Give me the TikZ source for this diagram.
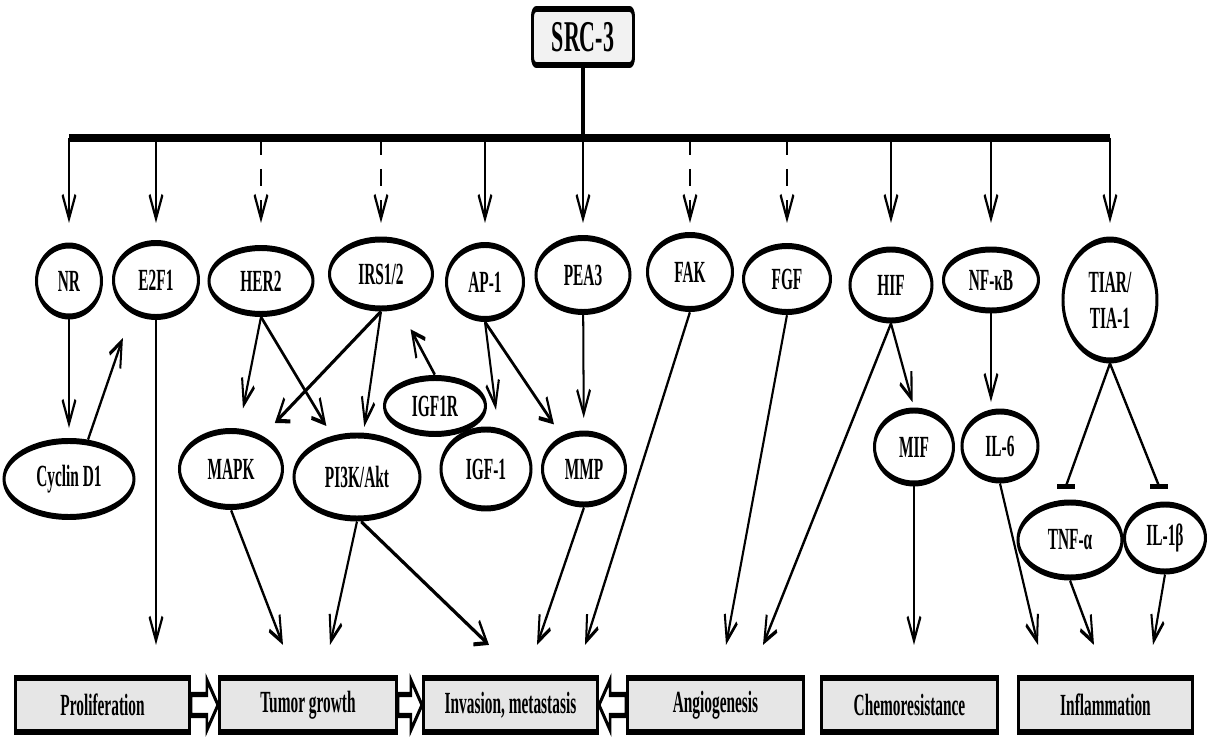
\documentclass[tikz,border=0pt]{standalone}
\usepackage{fontspec}
\setmainfont{Liberation Serif}
\usetikzlibrary{arrows.meta,calc,shapes.geometric}
\definecolor{boxgray}{HTML}{E6E6E6}
\definecolor{srcgray}{HTML}{F2F2F2}
\newcommand{\fatarrow}[3]{%
  \draw[fatarr] ([yshift=2.1mm]#1) -- ([shift={(#3,2.1mm)}]#2) -- ([shift={(#3,5mm)}]#2) -- (#2)
    -- ([shift={(#3,-5mm)}]#2) -- ([shift={(#3,-2.1mm)}]#2) -- ([yshift=-2.1mm]#1) -- cycle;}
\begin{document}
\begin{tikzpicture}[x=0.4mm, y=-0.2mm,
    every node/.style={font=\bfseries\fontsize{17.5}{20.5}\selectfont},
    ell/.style={ellipse, draw, fill=white, line width=3.4pt, inner sep=0pt, align=center},
    res/.style={rectangle, draw, fill=boxgray, line width=3.2pt, minimum height=10.9mm, inner sep=0pt},
    arr/.style={line width=2.3pt, -{Straight Barb[length=4.8mm, width=5.2mm]}},
    darr/.style={arr, dash pattern=on 3.4mm off 2.8mm},
    inh/.style={line width=2.3pt},
    tbar/.style={line width=2.85pt},
    fatarr/.style={draw, fill=white, line width=2.85pt, line join=miter}]
  \useasboundingbox (0mm,0mm) rectangle (241.6mm,-147.2mm);
  \begin{scope}[transform canvas={xscale=0.5}]
    \node[draw, fill=srcgray, line width=3.4pt, rounded corners=1.5mm, minimum width=40.4mm, minimum height=11.2mm,
      font=\bfseries\fontsize{25}{30}\selectfont] (src) at (583,37) {SRC-3};

    \node[ell, minimum width=26mm, minimum height=14.2mm] (nr) at (69,281) {NR};
    \node[ell, minimum width=34mm, minimum height=14.8mm] (e2f) at (156,280) {E2F1};
    \node[ell, minimum width=41.6mm, minimum height=13.2mm] (her) at (261,281) {HER2};
    \node[ell, minimum width=41.2mm, minimum height=13.8mm] (irs) at (381,274) {IRS1/2};
    \node[ell, minimum width=30.8mm, minimum height=14.8mm] (ap) at (485,282) {AP-1};
    \node[ell, minimum width=37.6mm, minimum height=14.8mm] (pea) at (583,275) {PEA3};
    \node[ell, minimum width=34mm, minimum height=14.8mm] (fak) at (690,272) {FAK};
    \node[ell, minimum width=34.8mm, minimum height=13.2mm] (fgf) at (787,279) {FGF};
    \node[ell, minimum width=32.8mm, minimum height=14.2mm] (hif) at (891,285) {HIF};
    \node[ell, minimum width=38mm, minimum height=12.2mm] (nfkb) at (991,280) {NF-κB};
    \node[ell, minimum width=37.6mm, minimum height=24.2mm] (tiar) at (1110,300) {TIAR/\\TIA-1};

    \node[ell, minimum width=52mm, minimum height=15.2mm] (cyc) at (69,479) {Cyclin D1};
    \node[ell, minimum width=41.2mm, minimum height=15.2mm] (mapk) at (231,469) {MAPK};
    \node[ell, minimum width=50.4mm, minimum height=16.6mm] (pik) at (357,477) {PI3K/Akt};
    \node[ell, minimum width=36mm, minimum height=15.8mm] (igf) at (486,469) {IGF-1};
    \node[ell, minimum width=40.4mm, minimum height=11.2mm] (igfr) at (435,406) {IGF1R};
    \node[ell, minimum width=33.2mm, minimum height=14.2mm] (mmp) at (584,469) {MMP};
    \node[ell, minimum width=31.6mm, minimum height=14.6mm] (mif) at (914,447) {MIF};
    \node[ell, minimum width=30.4mm, minimum height=13.8mm] (il6) at (1000,446) {IL-6};
    \node[ell, minimum width=41.6mm, minimum height=15mm] (tnf) at (1070,540) {TNF-α};
    \node[ell, minimum width=32.4mm, minimum height=13.4mm] (ilb) at (1165,538) {IL-1β};

    \node[res, minimum width=69.7mm] (prolif) at (102.5,705) {Proliferation};
    \node[res, minimum width=70.9mm] (tumor) at (308,705) {Tumor growth};
    \node[res, minimum width=69.7mm] (inv) at (510.5,705) {Invasion, metastasis};
    \node[res, minimum width=70.5mm] (angio) at (715.5,705) {Angiogenesis};
    \node[res, minimum width=70.5mm] (chemo) at (909.5,705) {Chemoresistance};
    \node[res, minimum width=69.7mm] (infl) at (1105.5,705) {Inflammation};

    \coordinate (barl) at (69,138);
    \coordinate (barr) at (1110,138);
    \coordinate (tipt) at (0,223);
    \draw[line width=4.5pt] (barl) -- (barr);
    \draw[line width=3.5pt] (src) -- (src |- barl);

    \draw[arr] (nr |- barl) -- (nr |- tipt);
    \draw[arr] (e2f |- barl) -- (e2f |- tipt);
    \draw[darr] (her |- barl) -- (her |- tipt);
    \draw[darr] (irs |- barl) -- (irs |- tipt);
    \draw[arr] (ap |- barl) -- (ap |- tipt);
    \draw[arr] (pea |- barl) -- (pea |- tipt);
    \draw[darr] (fak |- barl) -- (fak |- tipt);
    \draw[darr] (fgf |- barl) -- (fgf |- tipt);
    \draw[arr] (hif |- barl) -- (hif |- tipt);
    \draw[arr] (nfkb |- barl) -- (nfkb |- tipt);
    \draw[arr] (tiar |- barl) -- (tiar |- tipt);

    \draw[arr, shorten >=2mm] (nr) -- (cyc);
    \draw[arr, shorten >=6mm] (cyc.46) -- (e2f.214);
    \draw[arr, shorten >=6mm] (e2f) -- (e2f |- prolif.north);
    \draw[arr, shorten >=4.3mm] (her.south) -- (mapk);
    \draw[arr, shorten >=3.1mm] (her.south) -- (pik);
    \draw[arr, shorten >=5.6mm] (irs.south) -- (mapk);
    \draw[arr, shorten >=1.2mm] (irs.south) -- (pik);
    \draw[arr, shorten >=5.9mm] (igfr.north) -- (irs);
    \draw[arr] (ap.south) -- ([shift={(4mm,3.3mm)}]igf.north);
    \draw[arr, shorten >=3.9mm] (ap.south) -- (mmp);
    \draw[arr, shorten >=2.5mm] (pea) -- (mmp);

    \draw[arr] (mapk.south) -- ([shift={(-10mm,6mm)}]tumor.north);
    \draw[arr] (pik.south) -- ([shift={(8.8mm,6mm)}]tumor.north);
    \draw[arr] (pik.-80) -- ([shift={(-8.6mm,6mm)}]inv.north);
    \draw[arr] (mmp.south) -- ([shift={(10.6mm,6mm)}]inv.north);
    \draw[arr] (fak.south) -- ([shift={(29.8mm,6mm)}]inv.north);
    \draw[arr] (fgf.south) -- ([shift={(4.2mm,6mm)}]angio.north);
    \draw[arr] (hif.south) -- ([shift={(19mm,6mm)}]angio.north);
    \draw[arr, shorten >=1.2mm] (hif.south) -- (mif.north);
    \draw[arr, shorten >=1.3mm] (nfkb.south) -- (nfkb.south |- il6.north);
    \draw[arr, shorten >=6mm] (mif) -- (mif |- chemo.north);
    \draw[arr] (il6.south) -- ([shift={(-27mm,6mm)}]infl.north);
    \draw[arr] (tnf.south) -- ([shift={(-4.6mm,6mm)}]infl.north);
    \draw[arr] (ilb.south) -- ([shift={(19mm,6mm)}]infl.north);

    \coordinate (tnfstop) at ([shift={(-1.6mm,2.7mm)}]tnf.north);
    \coordinate (ilbstop) at ([shift={(-2.4mm,3.1mm)}]ilb.north);
    \draw[inh] (tiar.south) -- (tnfstop);
    \draw[inh] (tiar.south) -- (ilbstop);
    \draw[tbar] ([xshift=-3.5mm]tnfstop) -- ([xshift=3.5mm]tnfstop);
    \draw[tbar] ([xshift=-3.5mm]ilbstop) -- ([xshift=3.5mm]ilbstop);

    \fatarrow{prolif.east}{tumor.west}{-4.4mm}
    \fatarrow{tumor.east}{inv.west}{-4.4mm}
    \fatarrow{angio.west}{inv.east}{4.4mm}
  \end{scope}
\end{tikzpicture}
\end{document}
